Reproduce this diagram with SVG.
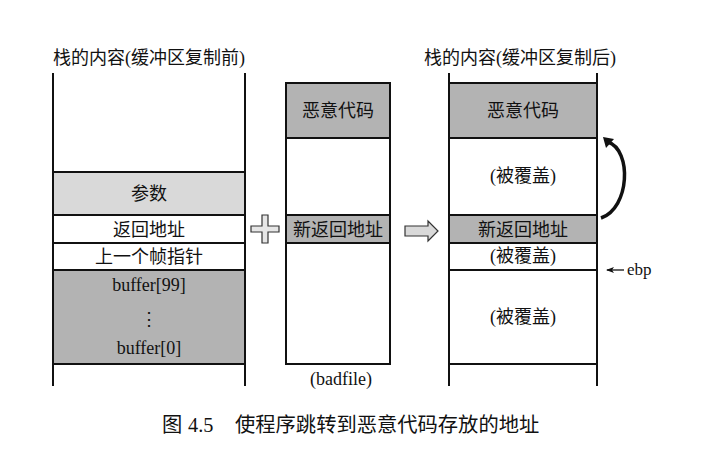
<svg xmlns="http://www.w3.org/2000/svg" width="720" height="467" viewBox="0 0 720 467">
<style>
text{font-family:"Liberation Serif","Noto Sans CJK SC",serif;fill:#111;text-anchor:middle}
.t{font-size:18px}
.b{font-size:18px}
.c{font-size:20.3px;text-anchor:start}
.ln{stroke:#111;stroke-width:2;fill:none}
.cell{stroke:#111;stroke-width:2}
.dk{fill:#b3b3b3}
.lt{fill:#d9d9d9}
.wh{fill:#fff}
</style>
<defs>
<marker id="ah" markerWidth="8" markerHeight="6" refX="7" refY="3" orient="auto" markerUnits="userSpaceOnUse">
<path d="M0,0 L8,3 L0,6 L2,3 Z" fill="#111"/>
</marker>
</defs>
<rect width="720" height="467" fill="#fff"/>

<g id="stack-before">
<text class="t" x="149" y="64">栈的内容(缓冲区复制前)</text>
<rect class="cell lt" x="53" y="172" width="192" height="43"/>
<rect class="cell wh" x="53" y="215" width="192" height="28"/>
<rect class="cell wh" x="53" y="243" width="192" height="27"/>
<rect class="cell dk" x="53" y="270" width="192" height="94"/>
<line class="ln" x1="53" y1="73" x2="53" y2="386"/>
<line class="ln" x1="245" y1="73" x2="245" y2="386"/>
<text class="b" x="149" y="200">参数</text>
<text class="b" x="149" y="235.5">返回地址</text>
<text class="b" x="149" y="262.5">上一个帧指针</text>
<text class="b" x="149" y="291">buffer[99]</text>
<text class="b" x="149" y="325">⋮</text>
<text class="b" x="149" y="354">buffer[0]</text>
</g>

<g id="plus">
<path d="M262,215 h6 v11 h11 v6 h-11 v11 h-6 v-11 h-11 v-6 h11 Z" fill="#e6e6e6" stroke="#333" stroke-width="1.2"/>
</g>

<g id="badfile">
<rect class="cell wh" x="286" y="83" width="104" height="281"/>
<rect class="cell dk" x="286" y="83" width="104" height="55"/>
<rect class="cell dk" x="286" y="215" width="104" height="28"/>
<text class="b" x="338" y="117">恶意代码</text>
<text class="b" x="338" y="235.5">新返回地址</text>
<text class="b" x="341" y="385">(badfile)</text>
</g>

<g id="right-arrow">
<path d="M405,226 h23 v-5 l10,10 l-10,10 v-5 h-23 Z" fill="#d9d9d9" stroke="#333" stroke-width="1.2"/>
</g>

<g id="stack-after">
<text class="t" x="520" y="64">栈的内容(缓冲区复制后)</text>
<rect class="cell dk" x="449" y="83" width="148" height="55"/>
<rect class="cell wh" x="449" y="138" width="148" height="77"/>
<rect class="cell dk" x="449" y="215" width="148" height="28"/>
<rect class="cell wh" x="449" y="243" width="148" height="27"/>
<rect class="cell wh" x="449" y="270" width="148" height="94"/>
<line class="ln" x1="449" y1="73" x2="449" y2="386"/>
<line class="ln" x1="597" y1="73" x2="597" y2="386"/>
<text class="b" x="523" y="117">恶意代码</text>
<text class="b" x="523" y="182">(被覆盖)</text>
<text class="b" x="523" y="235.5">新返回地址</text>
<text class="b" x="523" y="262">(被覆盖)</text>
<text class="b" x="523" y="323">(被覆盖)</text>
</g>

<g id="connectors">
<path d="M601,218 C630,208 632,150 608,142" fill="none" stroke="#111" stroke-width="3.5"/>
<path d="M603,137 L614,139 L606,148 Z" fill="#111"/>
<line x1="624" y1="270" x2="607" y2="270" stroke="#111" stroke-width="1.3" marker-end="url(#ah)"/>
</g>
<text class="b" x="627" y="275" style="text-anchor:start;font-size:17px">ebp</text>

<g id="caption">
<text class="c" x="162" y="432">图</text>
<text class="c" x="188" y="432">4.5</text>
<text class="c" x="235" y="432">使程序跳转到恶意代码存放的地址</text>
</g>
</svg>
